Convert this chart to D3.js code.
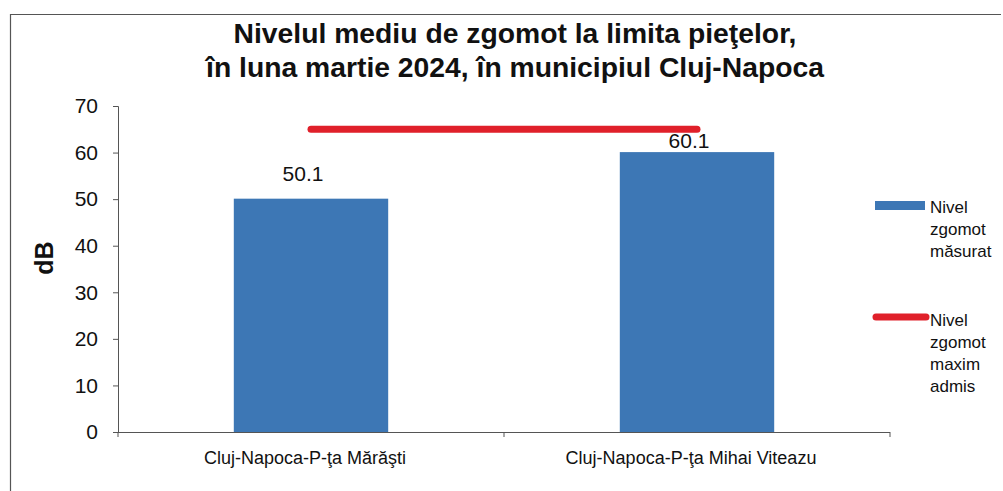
<!DOCTYPE html>
<html>
<head>
<meta charset="utf-8">
<script src="https://cdn.jsdelivr.net/npm/d3@7"></script>
<style>
html,body{margin:0;padding:0;background:#fff;}
svg{display:block;}
</style>
</head>
<body>
<div id="chart"></div>
<script>
const titleLines = ["Nivelul mediu de zgomot la limita pieţelor,", "în luna martie 2024, în municipiul Cluj-Napoca"];
const categories = ["Cluj-Napoca-P-ţa Mărăşti", "Cluj-Napoca-P-ţa Mihai Viteazu"];
const measured = [50.1, 60.1];
const maxAdmis = [65, 65];
const yTicks = [0, 10, 20, 30, 40, 50, 60, 70];
const yLabel = "dB";
const legendMeasured = ["Nivel", "zgomot", "măsurat"];
const legendMax = ["Nivel", "zgomot", "maxim", "admis"];

const W = 1003, H = 491;
const svg = d3.select("#chart").append("svg").attr("width", W).attr("height", H);
const font = "'Liberation Sans', Arial, sans-serif";

// frame
svg.append("path").attr("d", "M10.5,491 L10.5,14.5 L1001,14.5")
  .attr("fill", "none").attr("stroke", "#555").attr("stroke-width", 1.2);

// title
const title = svg.append("text").attr("text-anchor", "middle")
  .attr("font-family", font).attr("font-weight", "bold").attr("font-size", 28.3).attr("fill", "#111");
titleLines.forEach((t, i) => title.append("tspan").attr("x", 515).attr("y", 43 + i * 34).text(t));

const x = d3.scaleBand().domain(categories).range([118, 890]).paddingInner(0.6).paddingOuter(0.3);
const y = d3.scaleLinear().domain([0, 70]).range([432, 106]);

// bars
svg.append("g").selectAll("rect").data(categories).join("rect")
  .attr("x", d => x(d)).attr("width", x.bandwidth())
  .attr("y", (d, i) => y(measured[i])).attr("height", (d, i) => y(0) - y(measured[i]))
  .attr("fill", "#3d77b5");

// value labels (moved below the limit line when they would collide with it)
svg.append("g").selectAll("text").data(categories).join("text")
  .attr("x", d => x(d) + x.bandwidth() / 2 - 8)
  .attr("y", (d, i) => {
    const base = y(measured[i]) - 18;
    const ly = y(maxAdmis[i]);
    return (base > ly - 4 && base < ly + 24) ? ly + 19 : base;
  })
  .attr("text-anchor", "middle").attr("font-family", font).attr("font-size", 21).attr("fill", "#111")
  .text((d, i) => measured[i].toFixed(1));

// red line
const line = d3.line().x(d => x(d[0]) + x.bandwidth() / 2).y(d => y(d[1]));
svg.append("path").datum(categories.map((c, i) => [c, maxAdmis[i]]))
  .attr("d", line).attr("fill", "none").attr("stroke", "#e0202a")
  .attr("stroke-width", 7).attr("stroke-linecap", "round");

// y axis
const yAxis = svg.append("g").attr("transform", "translate(118,0)")
  .call(d3.axisLeft(y).tickValues(yTicks).tickSize(5).tickSizeOuter(5));
yAxis.selectAll("path,line").attr("stroke", "#555");
yAxis.selectAll("text").attr("font-family", font).attr("font-size", 21).attr("fill", "#111").attr("x", -20);

// x axis
const xAxis = svg.append("g").attr("transform", "translate(0,432)");
xAxis.append("line").attr("x1", 118).attr("x2", 890).attr("y1", 0.5).attr("y2", 0.5).attr("stroke", "#555");
const xEdges = [x.range()[0]].concat(categories.slice(1).map(c => x(c) - x.step() * x.paddingInner() / 2), [x.range()[1]]);
xAxis.selectAll("line.t").data(xEdges).join("line").attr("class", "t")
  .attr("x1", d => d).attr("x2", d => d).attr("y1", 0).attr("y2", 5).attr("stroke", "#555");
xAxis.selectAll("text").data(categories).join("text")
  .attr("x", d => x(d) + x.bandwidth() / 2 - 6).attr("y", 32)
  .attr("text-anchor", "middle").attr("font-family", font).attr("font-size", 18).attr("fill", "#111")
  .text(d => d);

// y label
svg.append("text").attr("transform", "translate(53,258) rotate(-90)")
  .attr("text-anchor", "middle").attr("font-family", font).attr("font-weight", "bold")
  .attr("font-size", 25).attr("fill", "#111").text(yLabel);

// legend
svg.append("rect").attr("x", 875).attr("y", 201).attr("width", 50).attr("height", 9).attr("fill", "#3d77b5");
const lt1 = svg.append("text").attr("font-family", font).attr("font-size", 17).attr("fill", "#111");
legendMeasured.forEach((t, i) => lt1.append("tspan").attr("x", 930).attr("y", 213 + i * 22).text(t));
svg.append("line").attr("x1", 876).attr("x2", 926).attr("y1", 317).attr("y2", 317)
  .attr("stroke", "#e0202a").attr("stroke-width", 7).attr("stroke-linecap", "round");
const lt2 = svg.append("text").attr("font-family", font).attr("font-size", 17).attr("fill", "#111");
legendMax.forEach((t, i) => lt2.append("tspan").attr("x", 930).attr("y", 326 + i * 22).text(t));
</script>
</body>
</html>
